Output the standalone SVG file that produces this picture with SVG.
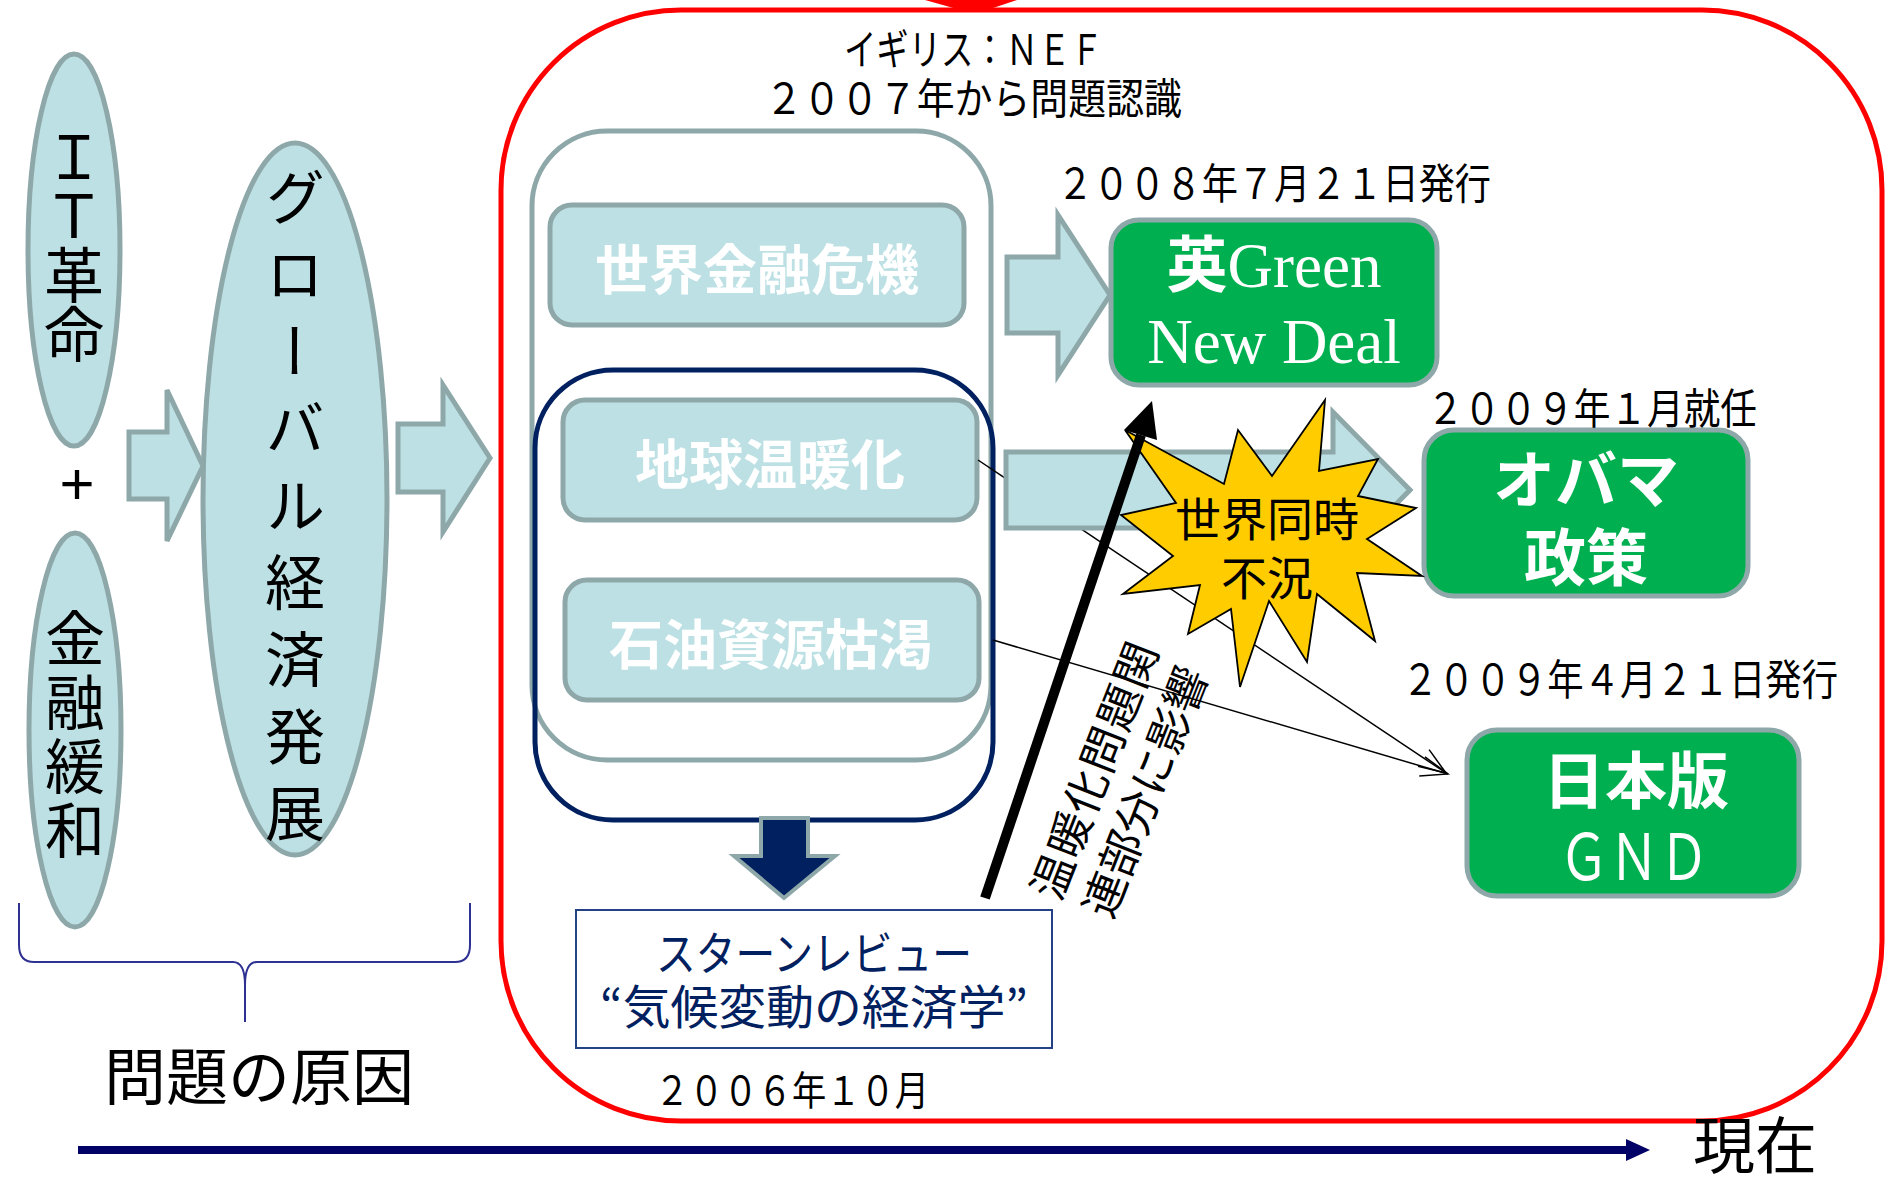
<svg xmlns="http://www.w3.org/2000/svg" width="1887" height="1183" viewBox="0 0 1887 1183">
<defs>
<style>
.jp{font-family:'Noto Sans CJK JP','Noto Sans CJK SC',sans-serif}
.lb{fill:#BCE0E3;stroke:#8EA8AA;stroke-width:5}
.gr{fill:#00B050;stroke:#8EA8AA;stroke-width:5}
.wb{fill:#FFFFFF;font-weight:bold}
.vt{writing-mode:vertical-rl;font-family:'Noto Sans CJK JP','Noto Sans CJK SC',sans-serif;fill:#000}
.thin{stroke:#000;stroke-width:1.5;fill:none;marker-end:url(#open)}
.date{font-family:'Noto Sans CJK JP','Noto Sans CJK SC',sans-serif;fill:#000}
</style>
<marker id="open" markerUnits="userSpaceOnUse" markerWidth="30" markerHeight="22" refX="28" refY="11" orient="auto" viewBox="0 0 30 22">
<path d="M1,1 L28,11 L1,21" fill="none" stroke="#000" stroke-width="1.5"/>
</marker>
</defs>
<rect width="1887" height="1183" fill="#FFFFFF"/>

<g id="frame">
<path d="M925,0 L1017,0 L990,9 L957,9 Z" fill="#FF0000"/>
<rect x="501" y="10" width="1381" height="1111" rx="180" fill="none" stroke="#FF0000" stroke-width="5"/>
</g>

<g id="it">
<ellipse class="lb" cx="74" cy="250" rx="46" ry="196"/>
<text class="vt" x="74" y="127" font-size="60" style="letter-spacing:-1px">ＩＴ革命</text>
</g>
<text id="plus" x="77" y="504" text-anchor="middle" font-family="'Liberation Sans',sans-serif" font-size="60">+</text>
<g id="kinyu">
<ellipse class="lb" cx="75" cy="730" rx="46" ry="197"/>
<text class="vt" x="75" y="608" font-size="60" style="letter-spacing:4px">金融緩和</text>
</g>
<g id="global">
<ellipse class="lb" cx="295" cy="499" rx="92" ry="356"/>
<text class="vt" x="295" y="167" font-size="60" style="letter-spacing:17px">グローバル経済発展</text>
</g>

<g id="container">
<rect x="532" y="131" width="459" height="629" rx="75" fill="#FFFFFF" stroke="#8EA8AA" stroke-width="5"/>
<rect x="535" y="370" width="458" height="450" rx="78" fill="none" stroke="#002060" stroke-width="5"/>
</g>
<g id="crisis">
<rect class="lb" x="550" y="205" width="414" height="120" rx="22"/>
<text class="jp wb" x="757" y="290" text-anchor="middle" font-size="54">世界金融危機</text>
</g>
<g id="warming">
<rect class="lb" x="563" y="400" width="414" height="120" rx="22"/>
<text class="jp wb" x="770" y="485" text-anchor="middle" font-size="54">地球温暖化</text>
</g>
<g id="oil">
<rect class="lb" x="565" y="580" width="414" height="120" rx="22"/>
<text class="jp wb" x="771" y="665" text-anchor="middle" font-size="54">石油資源枯渇</text>
</g>

<g id="uk-gnd">
<rect class="gr" x="1111" y="220" width="326" height="165" rx="28"/>
<text x="1274" y="287" text-anchor="middle" fill="#FFFFFF" font-family="'Liberation Serif',serif" font-size="63"><tspan class="jp" font-weight="bold" font-size="61">英</tspan>Green</text>
<text x="1274" y="363" text-anchor="middle" fill="#FFFFFF" font-family="'Liberation Serif',serif" font-size="63">New Deal</text>
</g>
<g id="obama">
<rect class="gr" x="1424" y="430" width="324" height="166" rx="30"/>
<text class="jp wb" x="1586" y="503" text-anchor="middle" font-size="62">オバマ</text>
<text class="jp wb" x="1586" y="581" text-anchor="middle" font-size="62">政策</text>
</g>
<g id="jp-gnd">
<rect class="gr" x="1467" y="730" width="332" height="166" rx="30"/>
<text class="jp wb" x="1636" y="804" text-anchor="middle" font-size="62">日本版</text>
<text class="jp" x="1634" y="880" text-anchor="middle" font-size="64" fill="#FFFFFF" textLength="150" lengthAdjust="spacingAndGlyphs">ＧＮＤ</text>
</g>

<g id="stern">
<rect x="576" y="910" width="476" height="138" fill="#FFFFFF" stroke="#244185" stroke-width="2"/>
<text class="jp" x="814" y="970" text-anchor="middle" font-size="46" fill="#002060" textLength="316" lengthAdjust="spacingAndGlyphs">スターンレビュー</text>
<text class="jp" x="814" y="1024" text-anchor="middle" font-size="47" fill="#002060" textLength="428" lengthAdjust="spacingAndGlyphs">“気候変動の経済学”</text>
</g>

<g id="connectors">
<g id="thin-lines">
<line class="thin" x1="978" y1="460" x2="1446" y2="773"/>
<line class="thin" x1="993" y1="640" x2="1448" y2="774"/>
</g>
<g id="block-arrows">
<polygon class="lb" points="129,432 167,432 167,390 203,466 167,541 167,499 129,499"/>
<polygon class="lb" points="398,424 443,424 443,385 490,458 443,532 443,492 398,492"/>
<polygon class="lb" points="1007,257 1058,257 1058,215 1110,295 1058,375 1058,333 1007,333"/>
<polygon class="lb" points="1006,452 1333,452 1333,412 1410,490 1333,568 1333,528 1006,528"/>
<polygon points="761,818 808,818 808,856 835,856 784,898 734,856 761,856" fill="#002060" stroke="#8EA8AA" stroke-width="4"/>
</g>
<g id="timeline">
<line x1="78" y1="1150" x2="1628" y2="1150" stroke="#000066" stroke-width="8"/>
<polygon points="1626,1139 1650,1150 1626,1161" fill="#000066"/>
</g>
<path id="brace" d="M19,903 L19,945 Q19,962 34,962 L233,962 Q245,962 245,985 L245,1022 M245,985 Q245,962 257,962 L455,962 Q470,962 470,945 L470,903" fill="none" stroke="#2E3192" stroke-width="2"/>
</g>

<g id="recession">
<polygon points="1125,430 1224,484 1238,430 1272,476 1325,400 1319,471 1378,459 1358,496 1416,508 1367,539 1422,576 1357,573 1375,641 1317,594 1307,662 1269,601 1240,687 1231,609 1188,634 1200,585 1123,594 1173,556 1121,515 1176,503" fill="#FFCC00" stroke="#000" stroke-width="1.8" stroke-linejoin="miter"/>
<text class="jp" x="1267" y="536" text-anchor="middle" font-size="46">世界同時</text>
<text class="jp" x="1267" y="595" text-anchor="middle" font-size="46">不況</text>
</g>

<g id="influence">
<line x1="985" y1="898" x2="1141" y2="435" stroke="#000" stroke-width="10"/>
<polygon points="1152,401 1157,440 1124,430" fill="#000"/>
<g transform="translate(1120,780) rotate(-68.5)">
<text class="jp" x="0" y="-11" text-anchor="middle" font-size="44" style="letter-spacing:1.5px">温暖化問題関</text>
<text class="jp" x="-2" y="44" text-anchor="middle" font-size="44">連部分に影響</text>
</g>
</g>

<g id="labels">
<text class="date" x="844" y="65" font-size="42" textLength="259" lengthAdjust="spacingAndGlyphs">イギリス：ＮＥＦ</text>
<text class="date" x="765" y="114" font-size="42" textLength="417" lengthAdjust="spacingAndGlyphs">２００７年から問題認識</text>
<text class="date" x="1057" y="199" font-size="42" textLength="434" lengthAdjust="spacingAndGlyphs">２００８年７月２１日発行</text>
<text class="date" x="1427" y="424" font-size="42" textLength="330" lengthAdjust="spacingAndGlyphs">２００９年１月就任</text>
<text class="date" x="1402" y="695" font-size="42" textLength="436" lengthAdjust="spacingAndGlyphs">２００９年４月２１日発行</text>
<text class="date" x="655" y="1105" font-size="40" textLength="274" lengthAdjust="spacingAndGlyphs">２００６年１０月</text>
<text class="date" x="104" y="1100" font-size="62">問題の原因</text>
<text class="date" x="1693" y="1169" font-size="62">現在</text>
</g>
</svg>
